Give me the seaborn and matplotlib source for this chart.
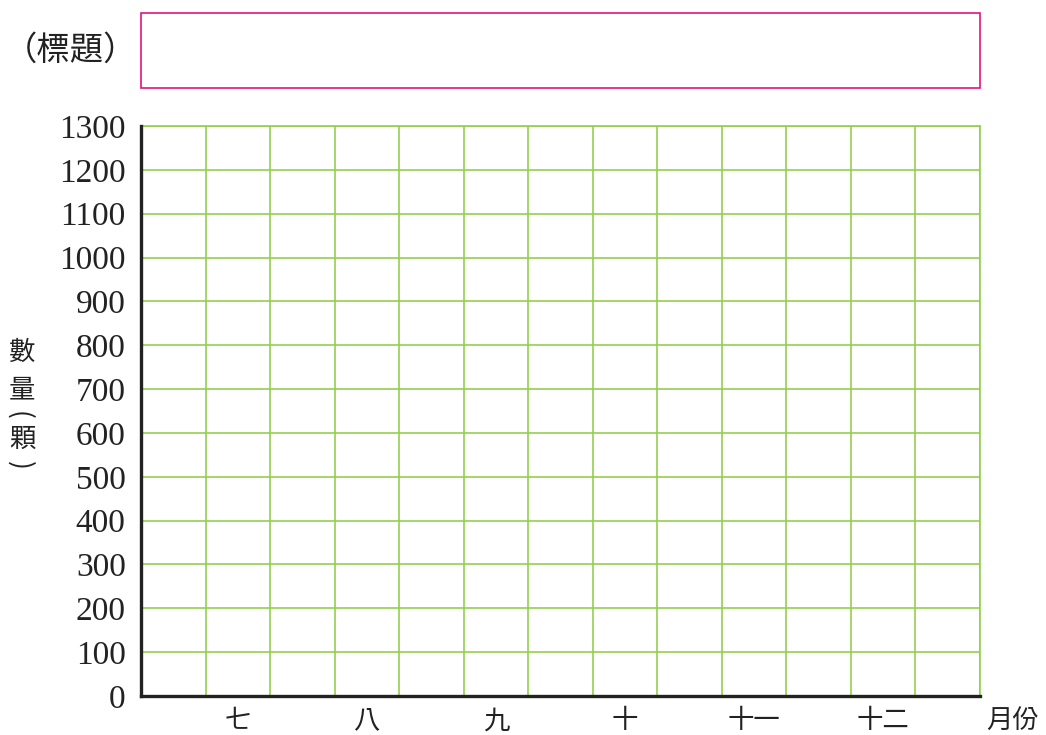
import numpy as np
import pandas as pd
import matplotlib
matplotlib.use('Agg')
import matplotlib.pyplot as plt
import seaborn as sns
from matplotlib.patches import Rectangle

# chart content
months = ['七', '八', '九', '十', '十一', '十二']
month_pos = [1.5, 3.5, 5.5, 7.5, 9.5, 11.5]
y_ticks = list(range(0, 1301, 100))
n_cols = 13
title_text = '（標題）'
x_label = '月份'
y_label_chars = ['數', '量', '(', '顆', ')']

sns.set_theme(style='white')
plt.rcParams['font.family'] = ['Noto Sans CJK TC', 'DejaVu Sans']

green = '#93cf4f'
pink = '#e4127f'
ink = '#222222'
W, H = 1046, 735

fig = plt.figure(figsize=(W / 100, H / 100), dpi=100)
ax = fig.add_axes([141 / W, 1 - 696 / H, (980 - 141) / W, (696 - 126) / H])

# empty chart: seaborn draws no marks, only the frame
df = pd.DataFrame({'x': pd.Series(dtype=float), 'y': pd.Series(dtype=float)})
sns.lineplot(data=df, x='x', y='y', ax=ax)

ax.set_xlim(0, n_cols)
ax.set_ylim(0, 1300)
ax.set_xticks(np.arange(n_cols + 1), minor=True)
ax.set_xticks(month_pos)
ax.set_xticklabels(months, fontsize=19)
ax.set_yticks(y_ticks)
ax.set_yticklabels([str(v) for v in y_ticks], fontsize=24,
                   family=['Liberation Serif', 'DejaVu Serif'], color=ink)
ax.tick_params(axis='x', which='both', length=0, pad=8, colors=ink)
ax.tick_params(axis='y', length=0, pad=11)
ax.grid(False)
ax.grid(True, axis='x', which='minor', color=green, lw=1.2)
ax.grid(True, axis='y', which='major', color=green, lw=1.2)
ax.set_xlabel('')
ax.set_ylabel('')

for s in ['left', 'bottom']:
    ax.spines[s].set_color(ink)
    ax.spines[s].set_linewidth(2.4)
    ax.spines[s].set_zorder(5)
for s in ['top', 'right']:
    ax.spines[s].set_color(green)
    ax.spines[s].set_linewidth(1.2)

# x axis unit
fig.text(1013 / W, 1 - 720 / H, x_label, ha='center', va='center', fontsize=19, color=ink)

# vertical y label, brackets turned sideways like vertical writing
x_pos = [22, 22, 19, 22, 20]
y_pos = [352, 390, 415, 439, 465]
for ch, xp, yp in zip(y_label_chars, x_pos, y_pos):
    rot = -90 if ch in '()' else 0
    fig.text(xp / W, 1 - yp / H, ch, ha='center', va='center', fontsize=19,
             color=ink, rotation=rot)

# title area
fig.text(71 / W, 1 - 50 / H, title_text, ha='center', va='center', fontsize=24, color=ink)
fig.patches.append(Rectangle((141 / W, 1 - 88 / H), (980 - 141) / W, (88 - 13) / H,
                             transform=fig.transFigure, fill=False, edgecolor=pink, lw=1.2))

fig.savefig('out.png', dpi=100)
